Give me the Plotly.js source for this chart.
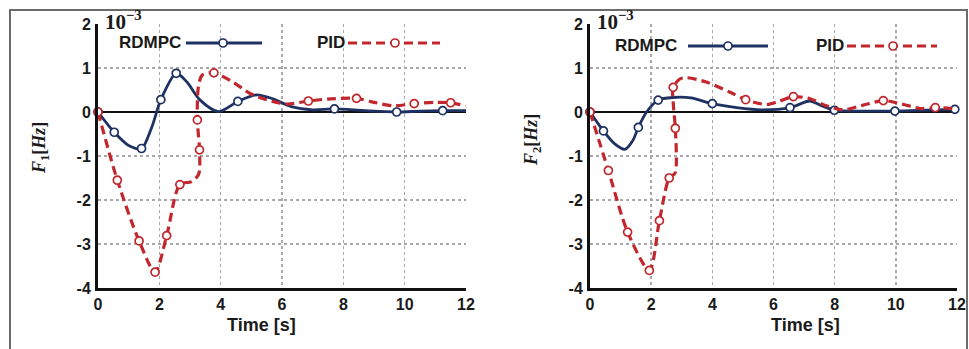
<!DOCTYPE html>
<html>
<head>
<meta charset="utf-8">
<script src="https://cdn.plot.ly/plotly-3.0.1.min.js"></script>
<style>html,body{margin:0;padding:0;background:#fff;}#chart{width:969px;height:349px;}</style>
</head>
<body>
<div id="chart"></div>
<script>
// ---- Data (values in units of 1e-3 Hz, time in s) ----
// Panel 1: F1
const rdmpc1T = [0, 0.53, 1.0, 1.42, 1.75, 2.05, 2.55, 2.9, 3.33, 3.93, 4.56, 5.17, 5.7, 6.3, 7.0, 7.71, 8.7, 9.74, 10.5, 11.24, 12];
const rdmpc1F = [0, -0.46, -0.76, -0.83, -0.35, 0.28, 0.88, 0.68, 0.27, 0.01, 0.24, 0.39, 0.3, 0.12, 0.05, 0.07, 0.03, 0.0, 0.02, 0.03, 0.03];
const rdmpc1MarkT = [0, 0.53, 1.42, 2.05, 2.55, 4.56, 7.71, 9.74, 11.24];
const rdmpc1MarkF = [0, -0.46, -0.83, 0.28, 0.88, 0.24, 0.07, 0.0, 0.03];

const pid1T = [0, 0.63, 1.34, 1.86, 2.24, 2.67, 3.05, 3.28, 3.31, 3.24, 3.27, 3.4, 3.78, 4.4, 4.96, 5.5, 6.15, 6.86, 7.6, 8.43, 9.0, 9.63, 10.31, 11.0, 11.5, 12];
const pid1F = [0, -1.55, -2.93, -3.64, -2.81, -1.65, -1.58, -1.42, -0.86, -0.18, 0.55, 0.84, 0.89, 0.68, 0.42, 0.28, 0.18, 0.25, 0.3, 0.31, 0.22, 0.14, 0.19, 0.22, 0.21, 0.14];
const pid1MarkT = [0, 0.63, 1.34, 1.86, 2.24, 2.67, 3.31, 3.24, 3.78, 6.86, 8.43, 10.31, 11.5];
const pid1MarkF = [0, -1.55, -2.93, -3.64, -2.81, -1.65, -0.86, -0.18, 0.89, 0.25, 0.31, 0.19, 0.21];

// Panel 2: F2
const rdmpc2T = [0, 0.44, 0.8, 1.14, 1.4, 1.58, 1.85, 2.23, 2.72, 3.3, 4.0, 4.8, 5.6, 6.54, 7.19, 7.55, 7.99, 9.0, 9.97, 11.0, 11.93];
const rdmpc2F = [0, -0.43, -0.72, -0.85, -0.65, -0.35, 0.0, 0.27, 0.33, 0.32, 0.19, 0.1, 0.05, 0.1, 0.25, 0.15, 0.04, 0.02, 0.02, 0.04, 0.06];
const rdmpc2MarkT = [0, 0.44, 1.58, 2.23, 4.0, 6.54, 7.99, 9.97, 11.93];
const rdmpc2MarkF = [0, -0.43, -0.35, 0.27, 0.19, 0.1, 0.04, 0.02, 0.06];

const pid2T = [0, 0.6, 1.23, 1.94, 2.27, 2.59, 2.78, 2.79, 2.73, 2.72, 2.94, 3.16, 3.8, 4.58, 5.09, 5.78, 6.2, 6.65, 7.2, 7.7, 8.28, 8.9, 9.59, 10.2, 10.8, 11.29, 12];
const pid2F = [0, -1.33, -2.73, -3.6, -2.47, -1.5, -1.39, -0.37, 0.12, 0.56, 0.75, 0.78, 0.68, 0.45, 0.28, 0.17, 0.25, 0.35, 0.3, 0.15, 0.05, 0.15, 0.26, 0.18, 0.08, 0.1, 0.07];
const pid2MarkT = [0, 0.6, 1.23, 1.94, 2.27, 2.59, 2.79, 2.72, 5.09, 6.65, 9.59, 11.29];
const pid2MarkF = [0, -1.33, -2.73, -3.6, -2.47, -1.5, -0.37, 0.56, 0.28, 0.35, 0.26, 0.1];

const xTicks = [0, 2, 4, 6, 8, 10, 12];
const yTicks = [-4, -3, -2, -1, 0, 1, 2];
const seriesNames = ['RDMPC', 'PID'];
const yTitles = ['<i>F</i><sub>1</sub>[<i>Hz</i>]', '<i>F</i><sub>2</sub>[<i>Hz</i>]'];

// ---- Styles ----
const W = 969, H = 349;
const NAVY = '#1e3163', RED = '#c1272d';
const DASH = '9px,5px';
const px = v => v / W, py = v => 1 - v / H;

function lineTrace(x, y, color, dash, xa, ya, w) {
  return {x, y, xaxis: xa, yaxis: ya, mode: 'lines', type: 'scatter',
    line: {color, width: w, dash, shape: 'spline', smoothing: 0.8},
    hoverinfo: 'skip', showlegend: false, cliponaxis: true};
}
function markTrace(x, y, color, xa, ya) {
  return {x, y, xaxis: xa, yaxis: ya, mode: 'markers', type: 'scatter',
    marker: {symbol: 'circle', size: 8, color: '#ffffff', line: {color, width: 1.7}},
    hoverinfo: 'skip', showlegend: false, cliponaxis: false};
}

const data = [
  lineTrace(rdmpc1T, rdmpc1F, NAVY, 'solid', 'x', 'y', 2.8),
  markTrace(rdmpc1MarkT, rdmpc1MarkF, NAVY, 'x', 'y'),
  lineTrace(pid1T, pid1F, RED, DASH, 'x', 'y', 3.2),
  markTrace(pid1MarkT, pid1MarkF, RED, 'x', 'y'),
  lineTrace(rdmpc2T, rdmpc2F, NAVY, 'solid', 'x2', 'y2', 2.8),
  markTrace(rdmpc2MarkT, rdmpc2MarkF, NAVY, 'x2', 'y2'),
  lineTrace(pid2T, pid2F, RED, DASH, 'x2', 'y2', 3.2),
  markTrace(pid2MarkT, pid2MarkF, RED, 'x2', 'y2')
];

const tickFont = {family: 'Liberation Sans, Arial, sans-serif', size: 16, color: '#1a1a1a', weight: 'bold'};
function xAxis(domain, anchor) {
  return {domain, anchor, range: [0, 12], tickvals: xTicks, ticktext: xTicks.map(String),
    showgrid: true, gridcolor: '#a8a8a8', griddash: 'dot', gridwidth: 1.5,
    zeroline: false, showline: true, linecolor: '#111', linewidth: 3,
    ticks: '', tickfont: tickFont, ticklabelstandoff: 0, fixedrange: true};
}
function yAxis(domain, anchor) {
  return {domain, anchor, range: [-4, 2], tickvals: yTicks, ticktext: yTicks.map(String),
    showgrid: true, gridcolor: '#a8a8a8', griddash: 'dot', gridwidth: 1.5,
    zeroline: true, zerolinecolor: '#111', zerolinewidth: 2,
    showline: true, linecolor: '#111', linewidth: 3,
    ticks: '', tickfont: tickFont, ticklabelstandoff: 1, fixedrange: true};
}

const yDom = [py(288), py(24)];
const shapes = [
  {type: 'path', xref: 'paper', yref: 'paper', path: `M ${px(10)} ${py(360)} L ${px(10)} ${py(10)} L ${px(967)} ${py(10)} L ${px(967)} ${py(360)}`,
   line: {color: '#6b6b6b', width: 2}}
];
const annotations = [];

function legend(items) {
  items.forEach(it => {
    annotations.push({xref: 'paper', yref: 'paper', x: px(it.textRight), y: py(it.y), xanchor: 'right', yanchor: 'middle',
      text: it.name, showarrow: false, font: {family: 'Liberation Sans, Arial, sans-serif', size: 17, color: '#1a1a1a', weight: 'bold'}});
    shapes.push({type: 'line', xref: 'paper', yref: 'paper', x0: px(it.l0), x1: px(it.l1), y0: py(it.y), y1: py(it.y),
      line: {color: it.color, width: it.dash === 'solid' ? 2.8 : 3.2, dash: it.dash}});
    shapes.push({type: 'circle', xref: 'paper', yref: 'paper', x0: px(it.m - 4), x1: px(it.m + 4), y0: py(it.y + 4), y1: py(it.y - 4),
      fillcolor: '#ffffff', line: {color: it.color, width: 1.7}});
  });
}
legend([
  {name: seriesNames[0], textRight: 183, l0: 186, l1: 262, m: 223, y: 43, color: NAVY, dash: 'solid'},
  {name: seriesNames[1], textRight: 347, l0: 348, l1: 440, m: 395, y: 43, color: RED, dash: DASH},
  {name: seriesNames[0], textRight: 679, l0: 688, l1: 768, m: 728, y: 46, color: NAVY, dash: 'solid'},
  {name: seriesNames[1], textRight: 846, l0: 847, l1: 937, m: 893, y: 46, color: RED, dash: DASH}
]);

// exponent labels
[[103, 20], [595, 20]].forEach(([x, y]) => annotations.push({xref: 'paper', yref: 'paper', x: px(x), y: py(y), xanchor: 'left', yanchor: 'middle',
  text: '10<sup>−3</sup>', showarrow: false, font: {family: 'Liberation Serif, Times New Roman, serif', size: 21, color: '#1a1a1a', weight: 'bold'}}));
// x titles
[[261, 325], [805, 325]].forEach(([x, y]) => annotations.push({xref: 'paper', yref: 'paper', x: px(x), y: py(y), xanchor: 'center', yanchor: 'middle',
  text: 'Time [s]', showarrow: false, font: {family: 'Liberation Sans, Arial, sans-serif', size: 18, color: '#1a1a1a', weight: 'bold'}}));
// y titles
[[40, 148, 0], [532, 140, 1]].forEach(([x, y, i]) => annotations.push({xref: 'paper', yref: 'paper', x: px(x), y: py(y), xanchor: 'center', yanchor: 'middle',
  text: yTitles[i], textangle: -90, showarrow: false, font: {family: 'Liberation Serif, Times New Roman, serif', size: 18, color: '#1a1a1a', weight: 'bold'}}));

const layout = {
  width: W, height: H, margin: {l: 0, r: 0, t: 0, b: 0},
  paper_bgcolor: '#ffffff', plot_bgcolor: '#ffffff', showlegend: false,
  xaxis: xAxis([px(98), px(466)], 'y'),
  yaxis: yAxis(yDom, 'x'),
  xaxis2: xAxis([px(590), px(957)], 'y2'),
  yaxis2: yAxis(yDom, 'x2'),
  shapes, annotations
};

Plotly.newPlot('chart', data, layout, {staticPlot: true, displayModeBar: false});
</script>
</body>
</html>
